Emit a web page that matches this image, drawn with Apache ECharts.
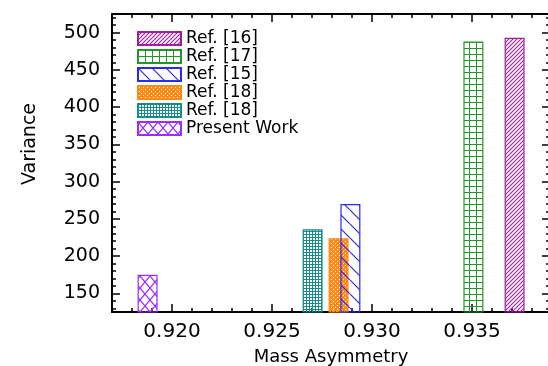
<!DOCTYPE html>
<html><head><meta charset="utf-8">
<script src="https://cdn.jsdelivr.net/npm/echarts@6/dist/echarts.min.js"></script>
<style>html,body{margin:0;padding:0;background:#fff}#c{width:548px;height:366px}</style>
</head><body><div id="c"></div>
<script>
// ---- data ----
const seriesNames = ['Ref. [16]', 'Ref. [17]', 'Ref. [15]', 'Ref. [18]', 'Ref. [18] ', 'Present Work'];
const massAsymmetry = [0.93713, 0.93507, 0.92892, 0.92833, 0.92703, 0.91878];
const variance = [493, 488, 270, 224, 236, 175];
const xTickValues = [0.920, 0.925, 0.930, 0.935];
const xMinorTickValues = [0.917, 0.918, 0.919, 0.921, 0.922, 0.923, 0.924, 0.926, 0.927, 0.928, 0.929,
  0.931, 0.932, 0.933, 0.934, 0.936, 0.937, 0.938];
const yTickValues = [150, 200, 250, 300, 350, 400, 450, 500];
const yMinorTickValues = [130, 140, 160, 170, 180, 190, 210, 220, 230, 240, 260, 270, 280, 290,
  310, 320, 330, 340, 360, 370, 380, 390, 410, 420, 430, 440, 460, 470, 480, 490, 510, 520];

// ---- styles ----
const FONT = 'DejaVu Sans';
function makePattern(w, h, draw) {
  const c = document.createElement('canvas');
  c.width = w; c.height = h;
  const ctx = c.getContext('2d');
  draw(ctx, w, h);
  return { image: c, repeat: 'repeat' };
}
function lines(ctx, col, lw, segs) {
  ctx.strokeStyle = col; ctx.lineWidth = lw;
  ctx.beginPath();
  segs.forEach(s => { ctx.moveTo(s[0], s[1]); ctx.lineTo(s[2], s[3]); });
  ctx.stroke();
}
const colors = ['#9E1F9E', '#23962A', '#2A2AF5', '#FF8A14', '#168C8C', '#9A2EFF'];
const patterns = [
  makePattern(4, 4, (ctx, w, h) => lines(ctx, colors[0], 1.1, [[-1, 5, 5, -1], [-5, 5, 1, -1], [3, 5, 9, -1]])),
  makePattern(7, 6, (ctx, w, h) => { ctx.fillStyle = colors[1]; ctx.fillRect(0, 0, 7, 1); ctx.fillRect(0, 0, 1, 6); }),
  makePattern(14, 14, (ctx, w, h) => lines(ctx, colors[2], 1.2, [[-14, 0, 0, 14], [0, 0, 14, 14], [14, 0, 28, 14]])),
  makePattern(4, 4, (ctx, w, h) => { ctx.fillStyle = colors[3]; ctx.fillRect(0, 0, 4, 4); ctx.clearRect(1, 1, 1, 1); ctx.clearRect(3, 3, 1, 1); }),
  makePattern(3, 3, (ctx, w, h) => { ctx.fillStyle = colors[4]; ctx.fillRect(0, 0, 3, 1); ctx.fillRect(0, 0, 1, 3); }),
  makePattern(10, 12, (ctx, w, h) => lines(ctx, colors[5], 1.2, [[0, 0, 10, 12], [10, 0, 0, 12]]))
];
const zOrder = [2, 2, 4, 3, 2, 2];

const X_MIN = 0.917, X_MAX = 0.9389, Y_MIN = 125, Y_MAX = 525;
const axisLineStyle = { color: '#000', width: 2 };

function xAx(pos, vals, len, showLine, labels, name) {
  return {
    type: 'value', position: pos, min: X_MIN, max: X_MAX,
    axisLine: { show: showLine, lineStyle: axisLineStyle },
    axisTick: { show: true, inside: true, length: len, customValues: vals, lineStyle: { color: '#000', width: 1.5 } },
    axisLabel: labels ? { show: true, customValues: vals, margin: 10, color: '#000', fontFamily: FONT, fontSize: 20,
      formatter: v => v.toFixed(3) } : { show: false },
    splitLine: { show: false },
    name: name || '', nameLocation: 'middle', nameGap: 36,
    nameTextStyle: { color: '#000', fontFamily: FONT, fontSize: 18 }
  };
}
function yAx(pos, vals, len, showLine, labels, name) {
  return {
    type: 'value', position: pos, min: Y_MIN, max: Y_MAX,
    axisLine: { show: showLine, lineStyle: axisLineStyle },
    axisTick: { show: true, inside: true, length: len, customValues: vals, lineStyle: { color: '#000', width: 1.5 } },
    axisLabel: labels ? { show: true, customValues: vals, margin: 12, color: '#000', fontFamily: FONT, fontSize: 19 } : { show: false },
    splitLine: { show: false },
    name: name || '', nameLocation: 'middle', nameGap: 72,
    nameTextStyle: { color: '#000', fontFamily: FONT, fontSize: 19, padding: [0, 0, 0, 38] }
  };
}

const option = {
  animation: false,
  backgroundColor: '#fff',
  grid: { left: 112, top: 14, width: 438, height: 298, containLabel: false, outerBoundsMode: 'none' },
  xAxis: [
    xAx('bottom', xTickValues, 8, true, true, 'Mass Asymmetry'),
    xAx('bottom', xMinorTickValues, 4, false, false),
    xAx('top', xTickValues, 8, true, false),
    xAx('top', xMinorTickValues, 4, false, false)
  ],
  yAxis: [
    yAx('left', yTickValues, 8, true, true, 'Variance'),
    yAx('left', yMinorTickValues, 4, false, false),
    yAx('right', yTickValues, 8, true, false),
    yAx('right', yMinorTickValues, 4, false, false)
  ],
  legend: {
    orient: 'vertical', left: 137, top: 30, padding: 0, itemWidth: 43, itemHeight: 13, itemGap: 1,
    icon: 'rect',
    textStyle: { color: '#000', fontFamily: FONT, fontSize: 17 },
    data: seriesNames
  },
  series: seriesNames.map((n, i) => ({
    type: 'bar', name: n, xAxisIndex: 0, yAxisIndex: 0,
    barWidth: 20, barGap: '-100%', z: zOrder[i],
    data: [[massAsymmetry[i], variance[i]]],
    itemStyle: { color: patterns[i], borderColor: colors[i], borderWidth: 1.2 }
  }))
};
echarts.init(document.getElementById('c'), null, { renderer: 'canvas' }).setOption(option);
</script></body></html>
